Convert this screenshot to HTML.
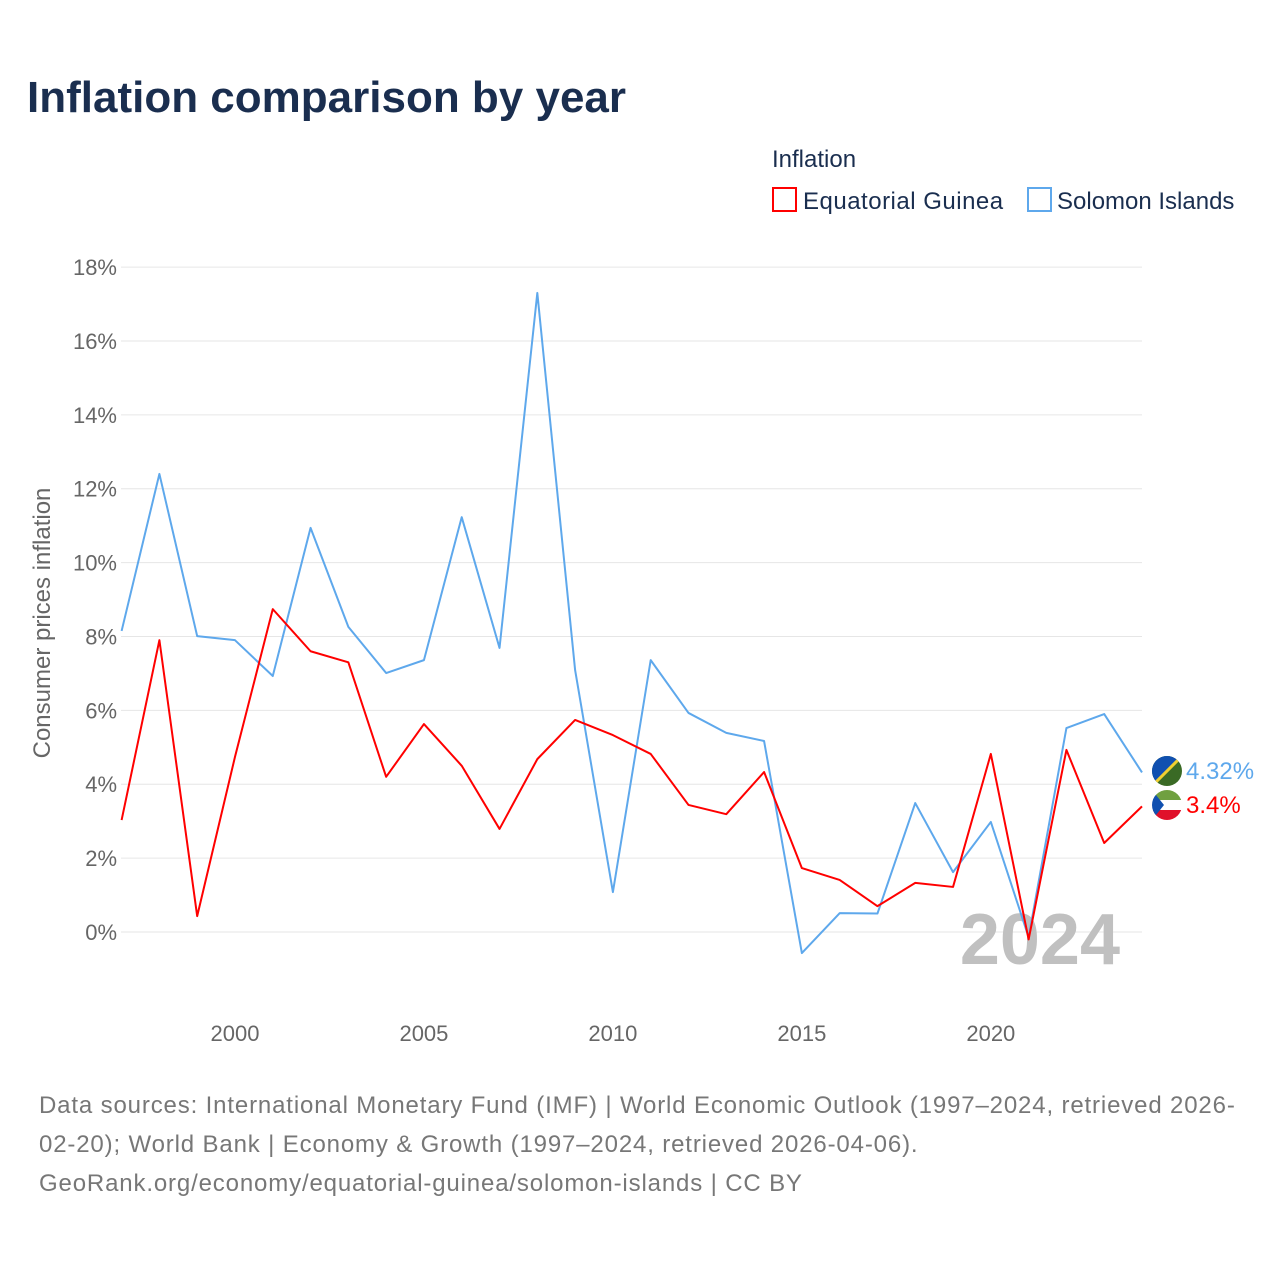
<!DOCTYPE html>
<html><head><meta charset="utf-8"><style>
body{margin:0;background:#fff;font-family:"Liberation Sans",sans-serif;}
svg{display:block}
</style></head><body>
<svg width="1280" height="1280" viewBox="0 0 1280 1280">
<defs>
<clipPath id="c1"><circle cx="1167" cy="771" r="15"/></clipPath>
<clipPath id="c2"><circle cx="1167" cy="805" r="15"/></clipPath>
</defs>
<text x="27" y="112" font-size="44" font-weight="bold" fill="#1a2e4f">Inflation comparison by year</text>
<text x="772" y="167" font-size="24" fill="#1a2e4f">Inflation</text>
<g>
<rect x="773" y="188" width="23" height="23" fill="none" stroke="#f00" stroke-width="2"/>
<text x="803" y="209" font-size="24" fill="#1a2e4f" letter-spacing="0.5">Equatorial Guinea</text></g>
<g>
<rect x="1028" y="188" width="23" height="23" fill="none" stroke="#5ea8ec" stroke-width="2"/>
<text x="1057" y="209" font-size="24" fill="#1a2e4f">Solomon Islands</text></g>
<g id="grid"></g>
<g id="yt"></g>
<g id="xt"></g>
<text transform="translate(50,623) rotate(-90)" text-anchor="middle" font-size="24" fill="#666">Consumer prices inflation</text>
<text x="1120" y="964" text-anchor="end" font-size="72" font-weight="bold" fill="#c0c0c0">2024</text>
<g id="lines"></g>
<g clip-path="url(#c1)">
<rect x="1152" y="756" width="30" height="30" fill="#3a6a25"/>
<polygon points="1152,756 1182,756 1152,786" fill="#1050b0"/>
<line x1="1182" y1="756" x2="1152" y2="786" stroke="#f0d030" stroke-width="3"/></g>
<g clip-path="url(#c2)">
<rect x="1152" y="790" width="30" height="10" fill="#70a040"/>
<rect x="1152" y="800" width="30" height="10" fill="#fff"/>
<rect x="1152" y="810" width="30" height="10" fill="#e0102a"/>
<polygon points="1152,790 1164,805 1152,820" fill="#1050b0"/></g>
<text x="1186" y="779" font-size="24" fill="#5ea8ec">4.32%</text>
<text x="1186" y="813" font-size="24" fill="#f00">3.4%</text>
<text font-size="24" fill="#777" letter-spacing="0.85">
<tspan x="39" y="1113">Data sources: International Monetary Fund (IMF) | World Economic Outlook (1997–2024, retrieved 2026-</tspan>
<tspan x="39" y="1152">02-20); World Bank | Economy &amp; Growth (1997–2024, retrieved 2026-04-06).</tspan>
<tspan x="39" y="1191">GeoRank.org/economy/equatorial-guinea/solomon-islands | CC BY</tspan></text>
</svg>
<script>
const years=[1997,1998,1999,2000,2001,2002,2003,2004,2005,2006,2007,2008,2009,2010,2011,2012,2013,2014,2015,2016,2017,2018,2019,2020,2021,2022,2023,2024];
const eqGuinea=[3.03,7.9,0.43,4.74,8.74,7.6,7.3,4.2,5.63,4.5,2.79,4.68,5.74,5.33,4.82,3.44,3.19,4.33,1.73,1.41,0.7,1.33,1.22,4.82,-0.2,4.93,2.41,3.4];
const solomon=[8.15,12.4,8.01,7.9,6.93,10.94,8.26,7.01,7.36,11.23,7.69,17.3,7.09,1.08,7.36,5.93,5.39,5.17,-0.57,0.51,0.5,3.49,1.62,2.98,-0.14,5.52,5.9,4.32];
const yTicks=[0,2,4,6,8,10,12,14,16,18];
const xTicks=[2000,2005,2010,2015,2020];
const NS='http://www.w3.org/2000/svg';
const x=v=>121.6+(v-1997)*(1142-121.6)/27;
const y=v=>932-v*36.94;
function mk(t,a,p){const e=document.createElementNS(NS,t);for(const k in a)e.setAttribute(k,a[k]);document.getElementById(p).appendChild(e);return e;}
yTicks.forEach(v=>{
 const l=mk('line',{x1:121,x2:1142,y1:y(v),y2:y(v),stroke:'#e6e6e6','stroke-width':1},'grid');
 
 
 const t=mk('text',{x:117,y:y(v)+8,'text-anchor':'end','font-size':22,fill:'#666'},'yt');
 t.textContent=v+'%';
 
 
});
xTicks.forEach(v=>{
 const t=mk('text',{x:x(v),y:1041,'text-anchor':'middle','font-size':22,fill:'#666'},'xt');
 t.textContent=v;
 
 
});
function line(vals,col,name){
 const p=mk('polyline',{points:vals.map((v,i)=>x(years[i])+','+y(v)).join(' '),fill:'none',stroke:col,'stroke-width':2,'stroke-linejoin':'round'},'lines');
 
 
}
line(solomon,'#5ea8ec','line-solomon-islands');
line(eqGuinea,'#f00','line-equatorial-guinea');
</script>
</body></html>
